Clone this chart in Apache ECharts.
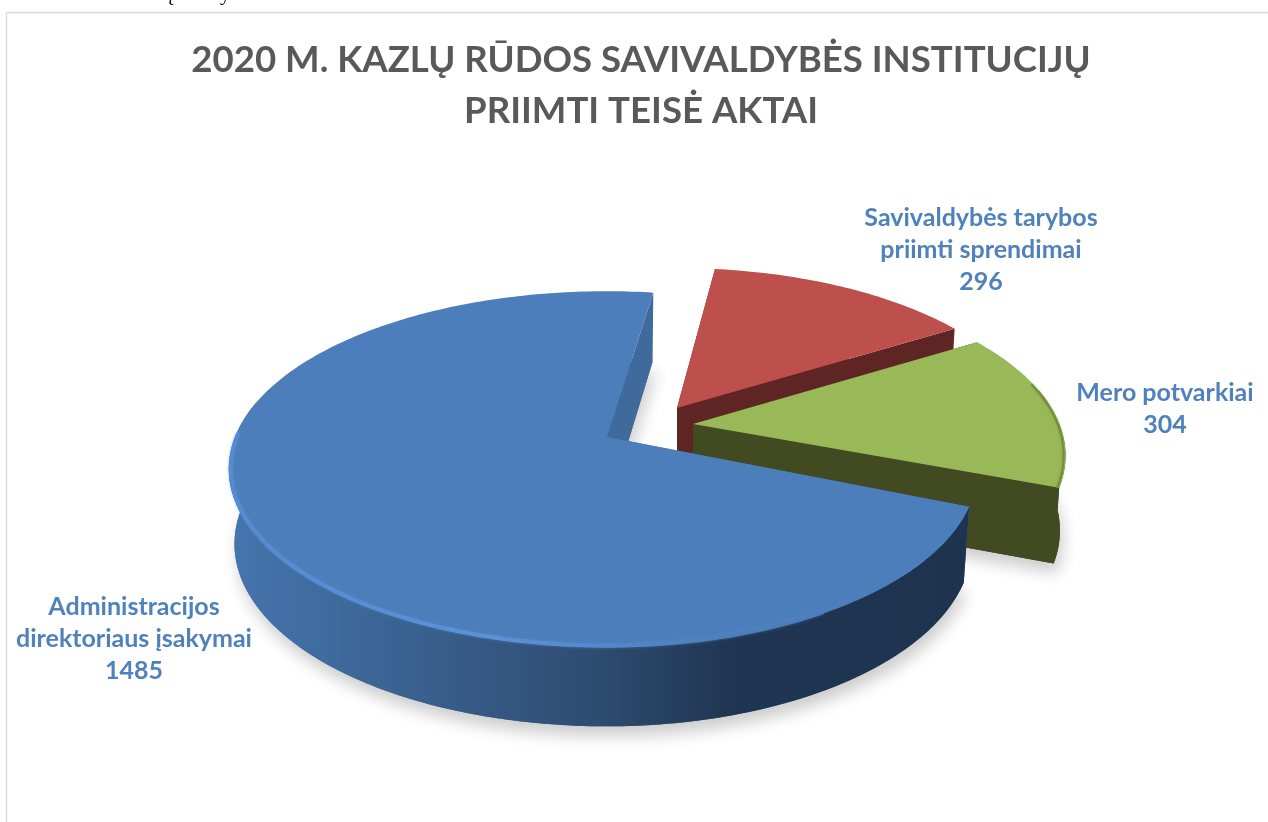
<!DOCTYPE html>
<html><head><meta charset="utf-8">
<style>html,body{margin:0;padding:0;background:#fff}#c{width:1268px;height:822px}</style>
<script src="https://cdn.jsdelivr.net/npm/echarts@6/dist/echarts.min.js"></script>
</head><body><div id="c"></div>
<script>
const titleLines = ['2020 M. KAZLŲ RŪDOS SAVIVALDYBĖS INSTITUCIJŲ', 'PRIIMTI TEISĖ AKTAI'];
const categories = ['Savivaldybės tarybos\npriimti sprendimai', 'Mero potvarkiai', 'Administracijos\ndirektoriaus įsakymai'];
const values = [296, 304, 1485];

const FONT = 'Lato, "Open Sans", sans-serif';
const firstAngle = 8.6, k = 0.18, R = 372, S = 172;
const total = values.reduce((a, b) => a + b, 0);
const skin = [
  { cx: 677, cy: 408, scale: 0.96, spin: -1.4, right: 1, top: '#bd4f4c', wall: '#5f2524', cut: '#5f2524', lx: 981, ly: 250 },
  { cx: 693, cy: 424, scale: 0.985, spin: -1.6, right: 1, top: '#99b857', wall: '#414a20', cut: '#414a20',
    rim: '#728d3e', rimFrom: 76, rimTo: 200, rimWidth: 2, glow: 'rgba(110,135,60,0.5)', lx: 1165, ly: 409 },
  { cx: 607, cy: 437, scale: 1, spin: 0, right: 0.98, top: '#4c7ebb', cut: '#3f6a9b', wall: {
      type: 'linear', x: 232, y: 0, x2: 970, y2: 0, global: true, colorStops: [
        { offset: 0, color: '#4575ae' }, { offset: 0.14, color: '#3e6a9c' }, { offset: 0.32, color: '#365a86' },
        { offset: 0.5, color: '#2e4b70' }, { offset: 0.68, color: '#1f3551' }, { offset: 1, color: '#1e334e' }] },
    rim: { type: 'linear', x: 230, y: 0, x2: 970, y2: 0, global: true, colorStops: [
        { offset: 0, color: '#558bd0' }, { offset: 0.35, color: '#5b92d8' }, { offset: 0.55, color: '#5186c8' }, { offset: 0.68, color: '#4c7ebb' }, { offset: 1, color: '#4c7ebb' }] },
    rimFrom: 150, rimTo: 271, rimWidth: 4, glow: 'rgba(90,145,215,0.5)', lx: 134, ly: 639 }
];

function project(s, deg, r, down) {
  const a = deg * Math.PI / 180, u = r * Math.sin(a), v = -r * Math.cos(a), w = 1 - k * v;
  const xs = (down ? 0.985 : 1) * (u > 0 ? s.right : 1);
  return [s.cx + xs * s.scale * R * u / w, s.cy + s.scale * S * v / w + (down ? 74 / (1 - 0.07 * v) : 0)];
}
function arc(s, a0, a1, down) {
  const out = [], n = Math.ceil(a1 - a0);
  for (let i = 0; i <= n; i++) out.push(project(s, a0 + (a1 - a0) * i / n, 1, down));
  return out;
}
function clip(a0, a1, from, to) {
  const b0 = Math.max(a0, from), b1 = Math.min(a1, to);
  return b1 > b0 ? [b0, b1] : null;
}

function renderItem(params, api) {
  const i = params.dataIndex, s = skin[i];
  let start = firstAngle;
  for (let j = 0; j < i; j++) start += values[j] / total * 360;
  start += s.spin;
  const end = start + api.value(0) / total * 360;
  const c = project(s, 0, 0, false), cd = project(s, 0, 0, true);
  const top = arc(s, start, end, false), bottom = arc(s, start, end, true);
  const shadow = { shadowBlur: 16, shadowOffsetX: 3, shadowOffsetY: 10, shadowColor: 'rgba(0,0,0,0.2)' };
  const kids = [];
  kids.push({ type: 'polygon', shape: { points: [cd].concat(bottom) }, style: Object.assign({ fill: s.cut }, shadow) });
  kids.push({ type: 'polygon', shape: { points: [c, top[0], bottom[0], cd] }, style: { fill: s.cut } });
  kids.push({ type: 'polygon', shape: { points: [c, top[top.length - 1], bottom[bottom.length - 1], cd] }, style: { fill: s.cut } });
  const face = clip(start, end, 78, 282);
  if (face) {
    kids.push({ type: 'polygon', shape: { points: arc(s, face[0], face[1], false).concat(arc(s, face[0], face[1], true).reverse()) }, style: { fill: s.wall } });
  }
  kids.push({ type: 'polygon', shape: { points: [c].concat(top) }, style: { fill: s.top } });
  if (s.rim) {
    const r = clip(start, end, s.rimFrom, s.rimTo);
    if (r) {
      const pts = arc(s, r[0], r[1], false).map(p => [c[0] + (p[0] - c[0]) * 0.995, c[1] + (p[1] - c[1]) * 0.995]);
      kids.push({ type: 'polyline', shape: { points: pts },
        style: { fill: 'none', stroke: s.rim, lineWidth: s.rimWidth, lineCap: 'round', shadowBlur: 3, shadowColor: s.glow } });
    }
  }
  kids.push({ type: 'text', z2: 10, style: { x: s.lx, y: s.ly, text: api.value(1) + '\n' + api.value(0), textAlign: 'center', textVerticalAlign: 'middle',
    fill: '#4f81bd', font: 'bold 25px ' + FONT, lineHeight: 32 } });
  return { type: 'group', children: kids };
}

const chart = echarts.init(document.getElementById('c'), null, { renderer: 'canvas' });
chart.setOption({
  animation: false,
  backgroundColor: '#fff',
  graphic: [
    { type: 'line', shape: { x1: 6.5, y1: 12.5, x2: 1268, y2: 12.5 }, style: { stroke: '#d9d9d9', lineWidth: 1.4 } },
    { type: 'line', shape: { x1: 6.5, y1: 12.5, x2: 6.5, y2: 822 }, style: { stroke: '#d9d9d9', lineWidth: 1.4 } },
    { type: 'text', style: { x: 168, y: 5, text: 'į', textAlign: 'left', textVerticalAlign: 'bottom', fill: '#000', font: '21px "Liberation Serif", serif' } },
    { type: 'text', style: { x: 220, y: 5, text: 'y', textAlign: 'left', textVerticalAlign: 'bottom', fill: '#000', font: '21px "Liberation Serif", serif' } },
    { type: 'text', style: { x: 641, y: 60, text: titleLines[0], textAlign: 'center', textVerticalAlign: 'middle', fill: '#595959', font: 'bold 36.6px ' + FONT } },
    { type: 'text', style: { x: 641, y: 111, text: titleLines[1], textAlign: 'center', textVerticalAlign: 'middle', fill: '#595959', font: 'bold 36.6px ' + FONT } }
  ],
  series: [{
    type: 'custom', coordinateSystem: 'none', renderItem,
    encode: { value: 0 }, dimensions: ['value', { name: 'name', type: 'ordinal' }],
    data: categories.map((n, i) => [values[i], n])
  }]
});
</script></body></html>
